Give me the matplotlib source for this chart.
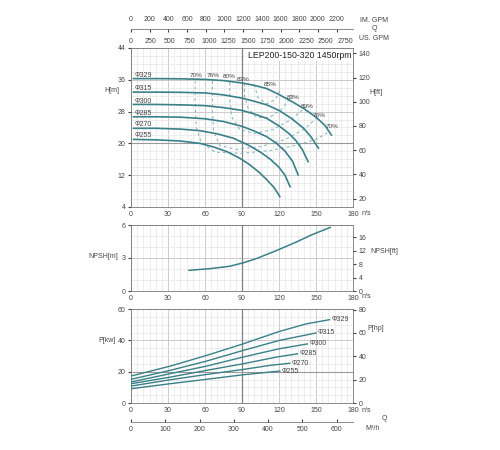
import numpy as np
import matplotlib.pyplot as plt
from matplotlib.ticker import MultipleLocator, FixedLocator

plt.rcParams['font.family'] = ['Liberation Sans', 'DejaVu Sans']

# flow in l/s
q_ticks = [0, 30, 60, 90, 120, 150, 180]
im_gpm = [0, 200, 400, 600, 800, 1000, 1200, 1400, 1600, 1800, 2000, 2200]
us_gpm = [0, 250, 500, 750, 1000, 1250, 1500, 1750, 2000, 2250, 2500, 2750]
m3h = [0, 100, 200, 300, 400, 500, 600]

diam = ['Φ329', 'Φ315', 'Φ300', 'Φ285', 'Φ270', 'Φ255']

# H-Q curves [m]
hq_q = [
    [2, 20, 40, 60, 75, 90, 100, 110, 120, 130, 140, 150, 157, 162.5],
    [2, 20, 40, 60, 75, 90, 100, 110, 120, 130, 140, 146, 152],
    [2, 20, 40, 60, 75, 90, 100, 110, 120, 128, 134, 139, 143.6],
    [2, 20, 40, 60, 75, 90, 100, 110, 118, 125, 131, 135.5],
    [2, 20, 40, 56, 70, 83, 95, 105, 113, 120, 125, 129],
    [2, 20, 40, 56, 67, 78, 88, 96, 104, 110, 116, 120.7],
]
hq_h = [
    [36.3, 36.3, 36.25, 36.1, 35.8, 35.2, 34.6, 33.8, 32.3, 30.6, 28.8, 26.6, 24.6, 22.1],
    [32.9, 32.9, 32.85, 32.7, 32.2, 31.4, 30.6, 29.7, 28.3, 26.3, 23.8, 21.6, 18.8],
    [29.8, 29.8, 29.7, 29.5, 29.0, 28.3, 27.4, 26.3, 24.4, 22.5, 20.6, 18.4, 15.4],
    [26.7, 26.7, 26.6, 26.2, 25.5, 24.3, 23.1, 21.7, 20.0, 18.0, 15.5, 12.1],
    [23.8, 23.8, 23.6, 23.2, 22.4, 21.3, 19.6, 17.8, 16.0, 14.0, 11.9, 9.1],
    [21.0, 20.9, 20.6, 20.0, 19.1, 17.9, 16.3, 14.7, 12.7, 10.9, 8.9, 6.6],
]
hq_lab_h = [37.2, 33.9, 30.6, 27.6, 24.8, 21.9]

# iso-efficiency lines
eff_q = [
    [52, 52, 53, 57, 68, 90, 115, 135, 150, 161],
    [66, 66, 67, 72, 85, 105, 125, 140, 151],
    [80, 80, 82, 88, 100, 115, 130, 143],
    [92, 92, 95, 102, 112, 122, 131],
    [100, 103, 110, 117, 121],
]
eff_h = [
    [35.8, 30, 24, 20.2, 17.8, 17.5, 18.3, 19.6, 21.0, 23.0],
    [35.7, 29, 23, 19.5, 18.5, 19.2, 21.0, 23.5, 26.5],
    [35.4, 31, 26.5, 23.5, 22.5, 23.5, 26.0, 29.5],
    [35.2, 32, 28.8, 26.5, 26.5, 28.5, 32.2],
    [34.8, 31.5, 30.0, 31.0, 33.5],
]
eff_txt = ['70%', '76%', '80%', '83%', '85%', '83%', '80%', '76%', '70%']
eff_txt_q = [53, 66.7, 79.6, 91, 113, 131.5, 142.8, 152.3, 163]
eff_txt_h = [37.2, 37.2, 36.8, 36.2, 34.7, 31.5, 29.2, 26.9, 24.2]

# NPSH [m]
npsh_q = [47, 64, 80, 91, 101.5, 117.6, 133.8, 147, 161.5]
npsh_h = [1.88, 2.03, 2.25, 2.56, 2.94, 3.66, 4.44, 5.13, 5.78]

# power [kW]
p_q = [
    [0, 31.6, 61, 90.7, 120, 142, 161],
    [0, 31.6, 61, 90.7, 120, 150],
    [0, 31.6, 61, 90.7, 120, 143],
    [0, 31.6, 61, 90.7, 117.8, 135],
    [0, 31.6, 61, 90.7, 112.6, 128.8],
    [0, 31.6, 61, 90.7, 120.7],
]
p_kw = [
    [17.2, 23.5, 30.3, 37.7, 45.6, 50.5, 53.2],
    [15.1, 20.8, 26.7, 33.5, 39.9, 44.7],
    [13.4, 18.7, 23.5, 29.3, 34.6, 37.7],
    [12.3, 16.5, 20.8, 25.0, 29.3, 31.4],
    [10.8, 14.8, 18.2, 21.4, 24.0, 25.4],
    [9.1, 12.3, 15.1, 18.0, 20.4],
]

W, H = 500, 450
curve_c = '#3a8088'
eff_c = '#80b4b8'
txt_c = '#444444'
fs = 5


def box(x0, y0, x1, y1):
    return [x0 / W, 1 - y1 / H, (x1 - x0) / W, (y1 - y0) / H]


def ftext(x, y, s, **kw):
    fig.text(x / W, 1 - y / H, s, fontsize=fs, color=txt_c, va='center', **kw)


def style(ax, ymaj, ymin):
    ax.set_xlim(0, 180)
    ax.xaxis.set_major_locator(FixedLocator(q_ticks))
    ax.xaxis.set_minor_locator(MultipleLocator(5))
    ax.yaxis.set_major_locator(FixedLocator(ymaj))
    ax.yaxis.set_minor_locator(MultipleLocator(ymin))
    ax.grid(which='major', color='#c4c4c4', lw=0.6)
    ax.grid(which='minor', color='#e6e6e6', lw=0.5)
    ax.axvline(90, color='#808080', lw=0.9, zorder=1)
    ax.tick_params(axis='x', which='both', length=0, labelsize=fs, colors=txt_c, pad=3)
    ax.tick_params(axis='y', which='major', length=2.5, labelsize=fs, colors=txt_c, pad=1.5)
    ax.tick_params(axis='y', which='minor', length=0)
    for s in ax.spines.values():
        s.set_color('#777777')
        s.set_linewidth(0.6)
    ax.set_axisbelow(True)


def right_axis(ax, lim, ticks):
    r = ax.twinx()
    r.set_ylim(*lim)
    r.yaxis.set_major_locator(FixedLocator(ticks))
    r.tick_params(length=2.5, labelsize=fs, colors=txt_c, pad=1.5)
    for s in r.spines.values():
        s.set_visible(False)
    return r


fig = plt.figure(figsize=(5, 4.5), dpi=100)

# ---- H-Q ----
ax1 = fig.add_axes(box(131, 48, 353, 207))
ax1.set_ylim(4, 44)
style(ax1, [4, 12, 20, 28, 36, 44], 2)
ax1.axhline(20, color='#9a9a9a', lw=0.8, zorder=1)
for q, h in zip(eff_q, eff_h):
    ax1.plot(q, h, color=eff_c, lw=0.7, ls=(0, (3, 3)), zorder=2)
for q, h, lab, lh in zip(hq_q, hq_h, diam, hq_lab_h):
    ax1.plot(q, h, color=curve_c, lw=1.2, zorder=3)
    ax1.text(3, lh, lab, fontsize=fs, color=txt_c, va='center')
for s, q, h in zip(eff_txt, eff_txt_q, eff_txt_h):
    ax1.text(q, h, s, fontsize=4.6, color=txt_c, ha='center', va='center')
ax1.text(178.5, 42.2, 'LEP200-150-320 1450rpm', fontsize=6.3, color='#222222',
         ha='right', va='center', zorder=5,
         bbox=dict(facecolor='white', edgecolor='none', pad=1.2))
right_axis(ax1, (4 * 3.281, 44 * 3.281), [20, 40, 60, 80, 100, 120, 140])

# ---- NPSH ----
ax2 = fig.add_axes(box(131, 225, 353, 291))
ax2.set_ylim(0, 6)
style(ax2, [0, 3, 6], 1)
ax2.plot(npsh_q, npsh_h, color=curve_c, lw=1.1, zorder=3)
right_axis(ax2, (0, 6 * 3.281), [0, 4, 8, 12, 16])

# ---- P-Q ----
ax3 = fig.add_axes(box(131, 309, 353, 403))
ax3.set_ylim(0, 60)
style(ax3, [0, 20, 40, 60], 5)
ax3.axhline(20, color='#9a9a9a', lw=0.8, zorder=1)
for q, p, lab in zip(p_q, p_kw, diam):
    ax3.plot(q, p, color=curve_c, lw=1.0, zorder=3)
    ax3.text(q[-1] + 1.5, p[-1], lab, fontsize=fs, color=txt_c, va='center')
right_axis(ax3, (0, 60 * 1.341), [0, 20, 40, 60, 80])

# ---- top flow scales ----
axq = fig.add_axes(box(131, 29, 353, 29.2))
axq.set_xlim(0, 180)
axq.set_yticks([])
for k in ['left', 'right', 'bottom']:
    axq.spines[k].set_visible(False)
axq.spines['top'].set_color('#777777')
axq.spines['top'].set_linewidth(0.6)
axq.xaxis.tick_top()
axq.set_xticks([v / 13.198 for v in im_gpm])
axq.set_xticklabels([str(v) for v in im_gpm])
axq.tick_params(axis='x', direction='in', length=2, labelsize=fs, colors=txt_c, pad=4)
sec = axq.secondary_xaxis('bottom')
sec.set_xticks([v / 15.850 for v in us_gpm])
sec.set_xticklabels([str(v) for v in us_gpm])
sec.tick_params(length=0, labelsize=fs, colors=txt_c, pad=6)
sec.spines['bottom'].set_visible(False)

# ---- bottom m3/h scale ----
axm = fig.add_axes(box(131, 422, 353, 422.2))
axm.set_xlim(0, 180)
axm.set_yticks([])
for k in ['left', 'right', 'top']:
    axm.spines[k].set_visible(False)
axm.spines['bottom'].set_color('#777777')
axm.spines['bottom'].set_linewidth(0.6)
axm.set_xticks([v / 3.6 for v in m3h])
axm.set_xticklabels([str(v) for v in m3h])
axm.tick_params(axis='x', direction='in', length=2, labelsize=fs, colors=txt_c, pad=3)

# ---- outside labels ----
ftext(112, 91, 'H[m]', ha='center')
ftext(376, 93, 'H[ft]', ha='center')
ftext(103, 257, 'NPSH[m]', ha='center')
ftext(370, 251, 'NPSH[ft]', ha='left')
ftext(107, 340, 'P[kw]', ha='center')
ftext(376, 329, 'P[hp]', ha='center')
for yy in [214, 297, 410]:
    ftext(362, yy, 'n/s', ha='left')
ftext(374, 20, 'IM. GPM', ha='center')
ftext(374, 29, 'Q', ha='center')
ftext(374, 39, 'US. GPM', ha='center')
ftext(384, 418, 'Q', ha='center')
ftext(365, 428, 'M³/h', ha='left')

fig.savefig('out.png', dpi=100, facecolor='white')
